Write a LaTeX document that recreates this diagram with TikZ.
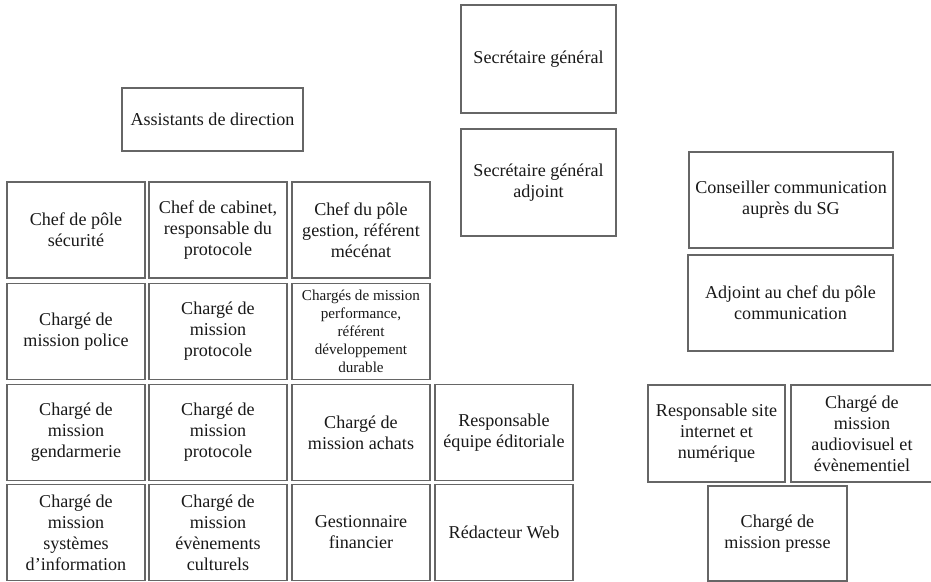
\documentclass[tikz,border=0pt]{standalone}
\usepackage{fontspec}
\setmainfont{Liberation Serif}
\begin{document}
\begin{tikzpicture}[
	box/.style={draw=black!60, line width=0.8pt, fill=white, align=center, inner sep=2pt,
		text=black!90, font=\rmfamily\fontsize{10.3pt}{11.9pt}\selectfont},
	cell/.style={box, minimum width=2.76cm, minimum height=1.92cm},
	small/.style={font=\rmfamily\fontsize{8.6pt}{10.2pt}\selectfont}
	]
		\useasboundingbox[fill=white] (0,0) rectangle (18.62,-11.64);

		% direction
		\node[box, minimum width=3.10cm, minimum height=2.16cm] (sg) at (10.77,-1.18) {Secrétaire général};
		\node[box, minimum width=3.10cm, minimum height=2.14cm] (sga) at (10.77,-3.65) {Secrétaire général\\adjoint};
		\node[box, minimum width=3.62cm, minimum height=1.26cm] (assist) at (4.25,-2.39) {Assistants de direction};

		% first column
		\node[cell] (secu) at (1.52,-4.60) {Chef de pôle\\sécurité};
		\node[cell] (police) at (1.52,-6.63) {Chargé de\\mission police};
		\node[cell] (gend) at (1.52,-8.65) {Chargé de\\mission\\gendarmerie};
		\node[cell] (si) at (1.52,-10.65) {Chargé de\\mission\\systèmes\\d'information};

		% second column
		\node[cell] (cab) at (4.36,-4.60) {Chef de cabinet,\\responsable du\\protocole};
		\node[cell] (proto) at (4.36,-6.63) {Chargé de\\mission\\protocole};
		\node[cell] (protob) at (4.36,-8.65) {Chargé de\\mission\\protocole};
		\node[cell] (evts) at (4.36,-10.65) {Chargé de\\mission\\évènements\\culturels};

		% third column
		\node[cell] (gestion) at (7.22,-4.60) {Chef du pôle\\gestion, référent\\mécénat};
		\node[cell, small] (perf) at (7.22,-6.63) {Chargés de mission\\performance,\\référent\\développement\\durable};
		\node[cell] (achats) at (7.22,-8.65) {Chargé de\\mission achats};
		\node[cell] (fin) at (7.22,-10.65) {Gestionnaire\\financier};

		% editorial
		\node[cell] (edito) at (10.08,-8.65) {Responsable\\équipe éditoriale};
		\node[cell] (web) at (10.08,-10.65) {Rédacteur Web};

		% communication
		\node[box, minimum width=4.08cm, minimum height=1.92cm] (conseil) at (15.82,-4.00) {Conseiller communication\\auprès du SG};
		\node[box, minimum width=4.10cm, minimum height=1.92cm] (comm) at (15.81,-6.06) {Adjoint au chef du pôle\\communication};
		\node[box, minimum width=2.74cm, minimum height=1.94cm] (site) at (14.33,-8.67) {Responsable site\\internet et\\numérique};
		\node[box, minimum width=2.84cm, minimum height=1.94cm] (audio) at (17.24,-8.67) {Chargé de\\mission\\audiovisuel et\\évènementiel};
		\node[box, minimum width=2.78cm, minimum height=1.90cm] (presse) at (15.55,-10.67) {Chargé de\\mission presse};

	\end{tikzpicture}
\end{document}
